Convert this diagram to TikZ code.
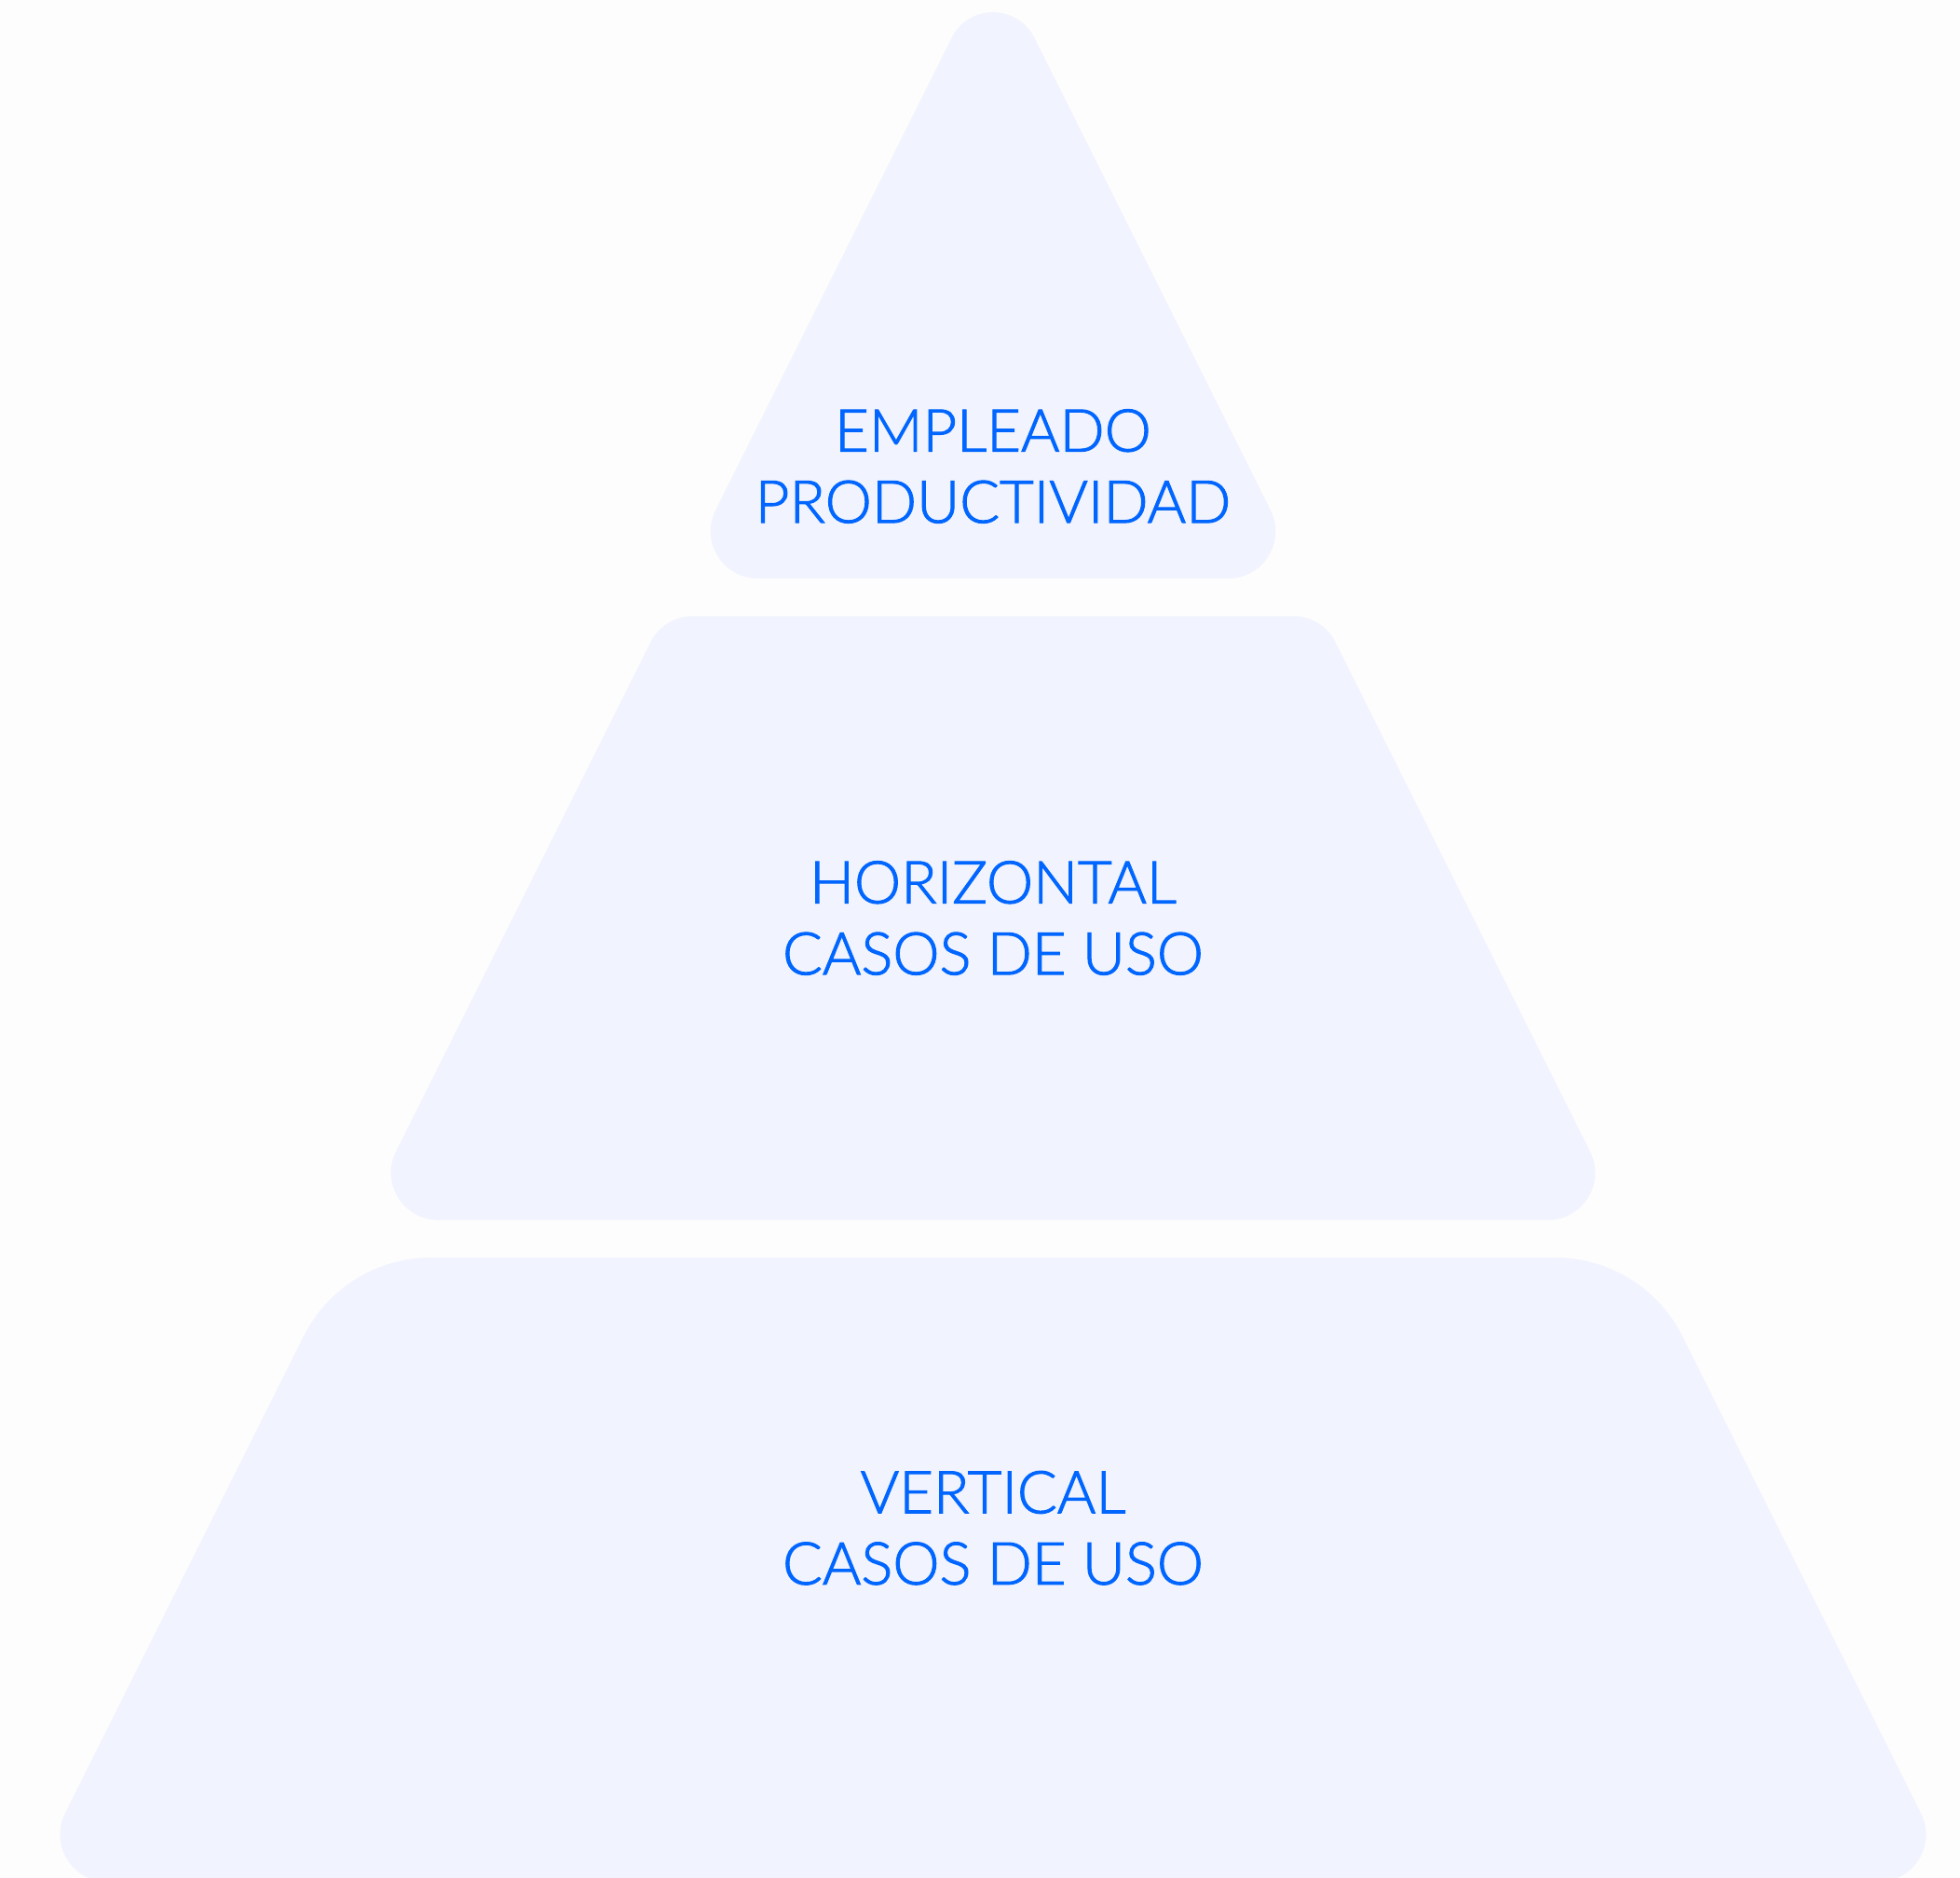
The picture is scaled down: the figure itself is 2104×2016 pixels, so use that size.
\documentclass[tikz,border=0pt]{standalone}
\usepackage{fontspec}
\setmainfont{Lato Light}
\newfontfamily\tierfont{Lato Light}[FakeBold=1.6]
\usetikzlibrary{calc}
\definecolor{bgcol}{HTML}{FDFDFD}
\definecolor{tierfill}{HTML}{F1F3FE}
\definecolor{tiertext}{HTML}{0066FF}
% rounded corner: #1 previous point, #2 corner, #3 next point, #4 inset, #5 control distance
\newcommand\crn[5]{-- ($(#2)!#4!(#1)$) .. controls ($(#2)!#5!(#1)$) and ($(#2)!#5!(#3)$) .. ($(#2)!#4!(#3)$)}
\begin{document}
\begin{tikzpicture}[x=0.5pt,y=-0.5pt,
  tier/.style={fill=tierfill},
  tiertxt/.style={text=tiertext, font=\tierfont\fontsize{31.7}{38.25}\selectfont, align=center, inner sep=0pt}]
\fill[bgcol] (0,0) rectangle (2104,2016);
\useasboundingbox (0,0) rectangle (2104,2016);
% top triangle
\coordinate (tA) at (1066,-48);
\coordinate (tL) at (731.5,621);
\coordinate (tR) at (1400.5,621);
\coordinate (tM) at (1066,621);
\fill[tier] (tM) \crn{tM}{tR}{tA}{41pt}{22.2pt} \crn{tR}{tA}{tL}{49.5pt}{29.1pt} \crn{tA}{tL}{tM}{41pt}{22.2pt} -- cycle;
% middle trapezoid
\coordinate (mTL) at (712.4,661.5);
\coordinate (mTR) at (1419.6,661.5);
\coordinate (mBL) at (388.4,1309.6);
\coordinate (mBR) at (1743.6,1309.6);
\coordinate (mM) at (1066,1309.6);
\fill[tier] (mM) \crn{mM}{mBR}{mTR}{41pt}{22.2pt} \crn{mBR}{mTR}{mTL}{15.5pt}{6.0pt} \crn{mTR}{mTL}{mBL}{15.5pt}{6.0pt} \crn{mTL}{mBL}{mM}{41pt}{22.2pt} -- cycle;
% bottom trapezoid
\coordinate (bTL) at (368.2,1350);
\coordinate (bTR) at (1763.8,1350);
\coordinate (bBL) at (33.2,2020);
\coordinate (bBR) at (2098.8,2020);
\coordinate (bM) at (1066,2020);
\fill[tier] (bM) \crn{bM}{bBR}{bTR}{41pt}{22.2pt} \crn{bBR}{bTR}{bTL}{47.3pt}{18.3pt} \crn{bTR}{bTL}{bBL}{47.3pt}{18.3pt} \crn{bTL}{bBL}{bM}{41pt}{22.2pt} -- cycle;
% labels
\node[tiertxt] (t1) at (1066,500.5) {EMPLEADO\\PRODUCTIVIDAD};
\node[tiertxt] (t2) at (1066,985.5) {HORIZONTAL\\CASOS DE USO};
\node[tiertxt] (t3) at (1066,1640.2) {VERTICAL\\CASOS DE USO};
\end{tikzpicture}
\end{document}
